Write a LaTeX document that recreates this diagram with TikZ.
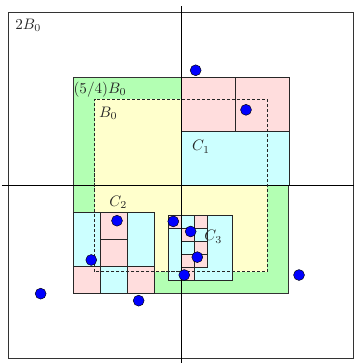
\documentclass[tikz,border=0pt]{standalone}
\usepackage{amsmath,amssymb}
\usepackage{xcolor}
\usepackage{tikz}
\usetikzlibrary{positioning,calc}

\definecolor{ballgreen}{RGB}{179,255,179}
\definecolor{ballyellow}{RGB}{255,255,204}
\definecolor{cellpink}{RGB}{255,221,221}
\definecolor{cellcyan}{RGB}{204,255,255}

\begin{document}
\begin{tikzpicture}[
  x=2cm, y=2cm,
  frame/.style={draw=black!80, line width=0.6pt},
  cell/.style={draw=black!85, line width=0.5pt},
  pinkcell/.style={cell, fill=cellpink},
  cyancell/.style={cell, fill=cellcyan},
  axis/.style={draw=black, line width=0.6pt},
  ball/.style={circle, draw=black, line width=0.3pt, fill=blue, inner sep=0pt, minimum size=7.2pt},
  lab/.style={font=\normalsize, inner sep=0pt, text=black!85}
]
\useasboundingbox (-2.096,-2.058) rectangle (2.003,2.146);

% Balls
\draw[frame] (-2,-2) rectangle (2,2);
\draw[frame, fill=ballgreen] (-1.25,-1.25) rectangle (1.25,1.25);
\fill[ballyellow] (-1,-1) rectangle (1,1);

% C_1
\draw[pinkcell] (0,0.625) rectangle (0.625,1.25);
\draw[pinkcell] (0.625,0.625) rectangle (1.25,1.25);
\draw[cyancell] (0,0) rectangle (1.25,0.625);

% C_2
\draw[cyancell] (-1.25,-0.3125) rectangle (-0.9375,-0.9375);
\draw[pinkcell] (-0.9375,-0.3125) rectangle (-0.625,-0.625);
\draw[pinkcell] (-0.9375,-0.625) rectangle (-0.625,-0.9375);
\draw[cyancell] (-0.625,-0.3125) rectangle (-0.3125,-0.9375);
\draw[pinkcell] (-1.25,-0.9375) rectangle (-0.9375,-1.25);
\draw[cyancell] (-0.9375,-0.9375) rectangle (-0.625,-1.25);
\draw[pinkcell] (-0.625,-0.9375) rectangle (-0.3125,-1.25);

% C_3
\draw[cyancell] (-0.15,-0.35) rectangle (0.6,-1.1);
\draw[pinkcell] (-0.15,-0.35) rectangle (0,-0.5);
\draw[cyancell] (-0.15,-0.5) rectangle (0,-1.1);
\draw[cyancell] (0,-0.35) rectangle (0.15,-0.5);
\draw[pinkcell] (0,-0.5) rectangle (0.15,-0.65);
\draw[cyancell] (0,-0.65) rectangle (0.15,-0.8);
\draw[pinkcell] (0,-0.8) rectangle (0.15,-0.95);
\draw[pinkcell] (0,-0.95) rectangle (0.15,-1.1);
\draw[pinkcell] (0.15,-0.35) rectangle (0.3,-0.5);
\draw[cyancell] (0.15,-0.5) rectangle (0.3,-0.65);
\draw[pinkcell] (0.15,-0.65) rectangle (0.3,-0.8);
\draw[pinkcell] (0.15,-0.8) rectangle (0.3,-0.95);

% Axes
\draw[axis] (0,2.075) -- (0,-2.075);
\draw[axis] (-2.075,0) -- (2.075,0);

% B_0 boundary
\draw[black!85, line width=0.5pt, dash pattern=on 2pt off 1.3pt] (-1,-1) rectangle (1,1);

% Points
\node[ball] (q1) at (0.170,1.332) {};
\node[ball] (q2) at (0.753,0.874) {};
\node[ball] (q3) at (-0.741,-0.410) {};
\node[ball] (q4) at (-1.039,-0.865) {};
\node[ball] (q5) at (-1.625,-1.255) {};
\node[ball] (q6) at (-0.490,-1.336) {};
\node[ball] (q7) at (-0.089,-0.418) {};
\node[ball] (q8) at (0.112,-0.535) {};
\node[ball] (q9) at (0.189,-0.832) {};
\node[ball] (q10) at (0.038,-1.039) {};
\node[ball] (q11) at (1.367,-1.039) {};

% Labels
\node[lab] (l2b) at (-1.768,1.856) {$2B_0$};
\node[lab] (l54b) at (-0.938,1.112) {$(5/4)B_0$};
\node[lab] (lb) at (-0.842,0.834) {$B_0$};
\node[lab] (lc1) at (0.232,0.447) {$C_1$};
\node[lab] (lc2) at (-0.726,-0.197) {$C_2$};
\node[lab] (lc3) at (0.374,-0.595) {$C_3$};
\end{tikzpicture}
\end{document}
